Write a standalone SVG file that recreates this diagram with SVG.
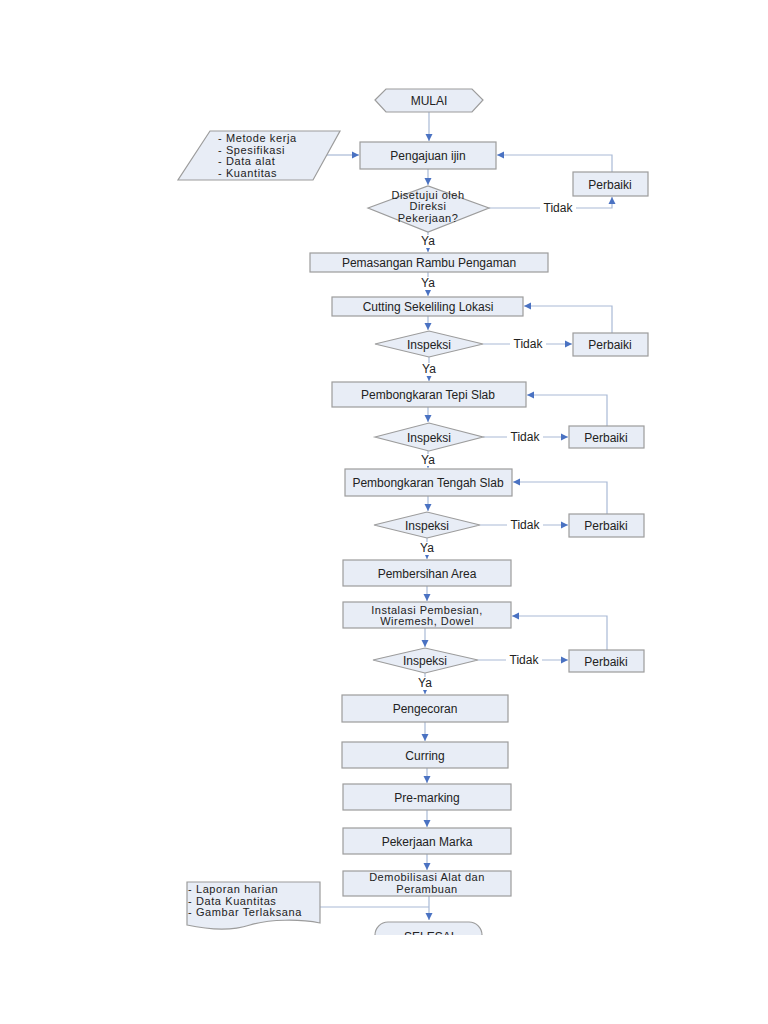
<svg xmlns="http://www.w3.org/2000/svg" width="768" height="1024" viewBox="0 0 768 1024">
<style>
.n{fill:#e8edf6;stroke:#9c9c9c;stroke-width:1.2}
.t{font-family:"Liberation Sans",Arial,sans-serif;font-size:12px;fill:#222;text-anchor:middle}
.m{font-family:"Liberation Sans",Arial,sans-serif;font-size:11px;letter-spacing:0.5px;fill:#222;text-anchor:middle}
.l{font-family:"Liberation Sans",Arial,sans-serif;font-size:11px;letter-spacing:0.6px;fill:#222}
.c{fill:none;stroke:#a9bad6;stroke-width:1.2}
.bg{fill:#fff}
</style>
<defs>
<marker id="a" markerUnits="userSpaceOnUse" markerWidth="8" markerHeight="8" refX="7" refY="4" orient="auto">
<path d="M0,0.5 L7,4 L0,7.5 z" fill="#4a72c2"/>
</marker>
<clipPath id="clip"><rect x="0" y="0" width="768" height="935"/></clipPath>
</defs>
<rect width="768" height="1024" fill="#fff"/>

<g id="connectors">
<path class="c" d="M429,112 V141" marker-end="url(#a)"/>
<path class="c" d="M327,155 H359" marker-end="url(#a)"/>
<path class="c" d="M428,169 V185" marker-end="url(#a)"/>
<path class="c" d="M489,208 H612 V197" marker-end="url(#a)"/>
<path class="c" d="M612,172 V155 H497" marker-end="url(#a)"/>
<path class="c" d="M428,232 V252" marker-end="url(#a)"/>
<path class="c" d="M428,272 V296" marker-end="url(#a)"/>
<path class="c" d="M428,316 V330" marker-end="url(#a)"/>
<path class="c" d="M483,344 H572" marker-end="url(#a)"/>
<path class="c" d="M612,333 V306 H524" marker-end="url(#a)"/>
<path class="c" d="M429,357 V381" marker-end="url(#a)"/>
<path class="c" d="M428,407 V422" marker-end="url(#a)"/>
<path class="c" d="M483,437 H568" marker-end="url(#a)"/>
<path class="c" d="M607,426 V395 H527" marker-end="url(#a)"/>
<path class="c" d="M428,451 V468" marker-end="url(#a)"/>
<path class="c" d="M428,496 V511" marker-end="url(#a)"/>
<path class="c" d="M480,525 H568" marker-end="url(#a)"/>
<path class="c" d="M607,514 V482 H513" marker-end="url(#a)"/>
<path class="c" d="M427,538 V559" marker-end="url(#a)"/>
<path class="c" d="M427,586 V601" marker-end="url(#a)"/>
<path class="c" d="M425,628 V647" marker-end="url(#a)"/>
<path class="c" d="M478,660 H568" marker-end="url(#a)"/>
<path class="c" d="M607,650 V616 H512" marker-end="url(#a)"/>
<path class="c" d="M425,673 V694" marker-end="url(#a)"/>
<path class="c" d="M425,722 V741" marker-end="url(#a)"/>
<path class="c" d="M427,768 V783" marker-end="url(#a)"/>
<path class="c" d="M427,810 V827" marker-end="url(#a)"/>
<path class="c" d="M427,854 V870" marker-end="url(#a)"/>
<path class="c" d="M429,896 V920" marker-end="url(#a)"/>
<path class="c" d="M320,907 H429"/>
<rect class="bg" x="540" y="201" width="36" height="13"/>
<text class="t" x="558" y="212">Tidak</text>
<rect class="bg" x="510" y="337" width="36" height="13"/>
<text class="t" x="528" y="348">Tidak</text>
<rect class="bg" x="507" y="430" width="36" height="13"/>
<text class="t" x="525" y="441">Tidak</text>
<rect class="bg" x="507" y="518" width="36" height="13"/>
<text class="t" x="525" y="529">Tidak</text>
<rect class="bg" x="506" y="653" width="36" height="13"/>
<text class="t" x="524" y="664">Tidak</text>
<rect class="bg" x="418" y="235" width="20" height="13"/>
<text class="t" x="428" y="245">Ya</text>
<rect class="bg" x="418" y="277" width="20" height="13"/>
<text class="t" x="428" y="287">Ya</text>
<rect class="bg" x="419" y="363" width="20" height="13"/>
<text class="t" x="429" y="373">Ya</text>
<rect class="bg" x="418" y="454" width="20" height="12"/>
<text class="t" x="428" y="464">Ya</text>
<rect class="bg" x="417" y="542" width="20" height="13"/>
<text class="t" x="427" y="552">Ya</text>
<rect class="bg" x="415" y="677" width="20" height="13"/>
<text class="t" x="425" y="687">Ya</text>
</g>

<g id="mulai">
<polygon class="n" points="375,100 386,89 472,89 483,100 472,112 386,112"/>
<text class="t" x="429" y="104.5">MULAI</text>
</g>

<g id="input">
<polygon class="n" points="210,131 340,131 313,180 178,180"/>
<text class="l" x="218" y="142">- Metode kerja</text>
<text class="l" x="218" y="153.5">- Spesifikasi</text>
<text class="l" x="218" y="165">- Data alat</text>
<text class="l" x="218" y="176.5">- Kuantitas</text>
</g>

<g id="pengajuan">
<rect class="n" x="360" y="142" width="136" height="27"/>
<text class="t" x="428" y="159.5">Pengajuan ijin</text>
</g>

<g id="disetujui">
<polygon class="n" points="368,208 428,186 489,208 428,232"/>
<text class="m" x="428" y="198.5">Disetujui oleh</text>
<text class="m" x="428" y="210">Direksi</text>
<text class="m" x="428" y="221.5">Pekerjaan?</text>
</g>

<g id="perbaiki1">
<rect class="n" x="573" y="172" width="75" height="24"/>
<text class="t" x="610" y="188.5">Perbaiki</text>
</g>

<g id="pemasangan">
<rect class="n" x="310" y="253" width="238" height="19"/>
<text class="t" x="429" y="266.5">Pemasangan Rambu Pengaman</text>
</g>

<g id="cutting">
<rect class="n" x="332" y="297" width="191" height="19"/>
<text class="t" x="428" y="310.5">Cutting Sekeliling Lokasi</text>
</g>

<g id="inspeksi1">
<polygon class="n" points="375,344 429,331 483,344 429,357"/>
<text class="t" x="429" y="348.5">Inspeksi</text>
</g>

<g id="perbaiki2">
<rect class="n" x="573" y="333" width="75" height="23"/>
<text class="t" x="610" y="348.5">Perbaiki</text>
</g>

<g id="tepi">
<rect class="n" x="332" y="382" width="194" height="25"/>
<text class="t" x="428" y="399">Pembongkaran Tepi Slab</text>
</g>

<g id="inspeksi2">
<polygon class="n" points="375,437 429,423 483,437 429,451"/>
<text class="t" x="429" y="441.5">Inspeksi</text>
</g>

<g id="perbaiki3">
<rect class="n" x="569" y="426" width="75" height="22"/>
<text class="t" x="606" y="441.5">Perbaiki</text>
</g>

<g id="tengah">
<rect class="n" x="345" y="469" width="167" height="27"/>
<text class="t" x="428" y="486.5">Pembongkaran Tengah Slab</text>
</g>

<g id="inspeksi3">
<polygon class="n" points="374,525 427,512 480,525 427,538"/>
<text class="t" x="427" y="529.5">Inspeksi</text>
</g>

<g id="perbaiki4">
<rect class="n" x="569" y="514" width="75" height="23"/>
<text class="t" x="606" y="529.5">Perbaiki</text>
</g>

<g id="pembersihan">
<rect class="n" x="343" y="560" width="168" height="26"/>
<text class="t" x="427" y="577.5">Pembersihan Area</text>
</g>

<g id="instalasi">
<rect class="n" x="343" y="602" width="168" height="26"/>
<text class="m" x="427" y="613.5">Instalasi Pembesian,</text>
<text class="m" x="427" y="625">Wiremesh, Dowel</text>
</g>

<g id="inspeksi4">
<polygon class="n" points="373,660 425,648 478,660 425,673"/>
<text class="t" x="425" y="664.5">Inspeksi</text>
</g>

<g id="perbaiki5">
<rect class="n" x="569" y="650" width="75" height="22"/>
<text class="t" x="606" y="665.5">Perbaiki</text>
</g>

<g id="pengecoran">
<rect class="n" x="342" y="695" width="166" height="27"/>
<text class="t" x="425" y="712.5">Pengecoran</text>
</g>

<g id="curring">
<rect class="n" x="342" y="742" width="166" height="26"/>
<text class="t" x="425" y="759.5">Curring</text>
</g>

<g id="premarking">
<rect class="n" x="343" y="784" width="168" height="26"/>
<text class="t" x="427" y="801.5">Pre-marking</text>
</g>

<g id="marka">
<rect class="n" x="343" y="828" width="168" height="26"/>
<text class="t" x="427" y="845.5">Pekerjaan Marka</text>
</g>

<g id="demobilisasi">
<rect class="n" x="343" y="871" width="168" height="25"/>
<text class="m" x="427" y="881">Demobilisasi Alat dan</text>
<text class="m" x="427" y="892.5">Perambuan</text>
</g>

<g id="laporan">
<path class="n" d="M187,882 H320 V923 C300,919 270,919 250,925 C232,931 210,930 187,925 Z"/>
<text class="l" x="188" y="893">- Laporan harian</text>
<text class="l" x="188" y="904.5">- Data Kuantitas</text>
<text class="l" x="188" y="916">- Gambar Terlaksana</text>
</g>

<g id="selesai" clip-path="url(#clip)">
<rect class="n" x="375" y="922" width="107" height="26" rx="13"/>
<text class="t" x="429" y="941">SELESAI</text>
</g>
</svg>
